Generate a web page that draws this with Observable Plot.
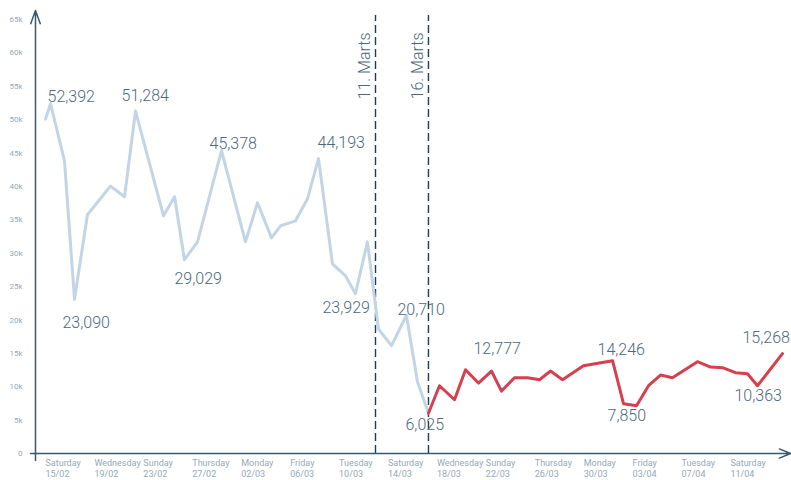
<!DOCTYPE html>
<html><head><meta charset="utf-8">
<script src="https://cdn.jsdelivr.net/npm/d3@7"></script>
<script src="https://cdn.jsdelivr.net/npm/@observablehq/plot@0.6"></script>
<style>body{margin:0;background:#fff;font-family:Roboto,"Noto Sans",sans-serif}</style>
</head><body><div id="chart"></div>
<script>
// x values: days after Saturday 15/02
const beforeDays = [0, 0.41, 1.55, 2.37, 3.43, 5.31, 6.46, 7.36, 9.65, 10.55, 11.36, 12.43, 14.39, 16.35, 17.33, 18.48, 19.21, 20.44, 21.42, 22.32, 23.46, 24.53, 25.34, 26.32, 27.22, 28.29, 29.51, 30.41, 31.31];
const beforeValues = [50100, 52392, 43850, 23090, 35750, 40050, 38450, 51284, 35600, 38450, 29029, 31700, 45378, 31700, 37550, 32300, 34100, 34850, 38150, 44193, 28400, 26600, 23929, 31700, 18650, 16150, 20710, 10750, 6025];
const afterDays = [31.31, 32.21, 33.44, 34.34, 35.40, 36.46, 37.28, 38.34, 39.41, 40.39, 41.29, 42.27, 43.98, 46.36, 47.26, 48.32, 49.30, 50.28, 51.26, 53.30, 54.37, 55.35, 56.41, 57.39, 58.21, 60.25];
const afterValues = [6025, 10150, 8050, 12550, 10550, 12350, 9350, 11350, 11350, 11050, 12350, 11050, 13150, 13900, 7450, 7150, 10150, 11750, 11350, 13750, 12950, 12850, 12100, 11950, 10150, 14950];

const tickDays = [0, 4, 8, 12, 16, 20, 24, 28, 32, 36, 40, 44, 48, 52, 56];
const tickWeekdays = ["Saturday","Wednesday","Sunday","Thursday","Monday","Friday","Tuesday","Saturday","Wednesday","Sunday","Thursday","Monday","Friday","Tuesday","Saturday"];
const tickDates = ["15/02","19/02","23/02","27/02","02/03","06/03","10/03","14/03","18/03","22/03","26/03","30/03","03/04","07/04","11/04"];
const yTicks = [0, 5000, 10000, 15000, 20000, 25000, 30000, 35000, 40000, 45000, 50000, 55000, 60000, 65000];

const eventDays = [26.98, 31.31];
const eventLabels = ["11. Marts", "16. Marts"];

const labelDays = [0.41, 7.36, 2.37, 11.36, 14.39, 22.32, 25.34, 29.51, 31.31, 36.46, 46.36, 48.32, 58.21, 60.25];
const labelValues = [52392, 51284, 23090, 29029, 45378, 44193, 23929, 20710, 6025, 12777, 14246, 7850, 10363, 15268];

// layout (pixel offsets of each value label relative to its point)
const labelOffsets = [[-3,-7],[-14,-15],[-12,24],[-10,19],[-12,-7],[-1,-16],[-33,14],[-9,-5],[-23,12],[-18,-19],[-15,-9],[-29,15],[-23,12],[-40,-14]];

const before = beforeDays.map((d, i) => ({day: d, value: beforeValues[i]}));
const after = afterDays.map((d, i) => ({day: d, value: afterValues[i]}));
const ticks = tickDays.map((d, i) => ({day: d, text: tickWeekdays[i] + "\n" + tickDates[i]}));
const events = eventDays.map((d, i) => ({day: d, text: eventLabels[i]}));
const fmt = d3.format(",");

const axisColor = "#3a586d";
const tickColor = "#94a9b8";
const labelColor = "#4b697e";
const xMin = -0.8175, xMax = 60.99;

const marks = [
  Plot.ruleX(events, {x: "day", y1: 0, y2: 65600, stroke: "#1c3d57", strokeWidth: 1.4, strokeDasharray: "8,4"}),
  Plot.text(events, {x: "day", frameAnchor: "top", text: "text", rotate: -90, textAnchor: "end", dx: -17, dy: 13, fontSize: 16, fontWeight: 300, fill: labelColor, fontFamily: "Roboto", style: "letter-spacing:0.5px"}),
  Plot.line(before, {x: "day", y: "value", stroke: "#c2d5e4", strokeWidth: 3}),
  Plot.line(after, {x: "day", y: "value", stroke: "#d6404e", strokeWidth: 3}),
  Plot.arrow([{x1: -1.226, y1: 0, x2: 60.91, y2: 0}], {x1: "x1", y1: "y1", x2: "x2", y2: "y2", stroke: axisColor, strokeWidth: 1.5, headLength: 12, headAngle: 45}),
  Plot.arrow([{x1: xMin, y1: -1050, x2: xMin, y2: 66350}], {x1: "x1", y1: "y1", x2: "x2", y2: "y2", stroke: axisColor, strokeWidth: 1.5, headLength: 14, headAngle: 40}),
  Plot.text(ticks, {x: "day", y: 0, text: "text", textAnchor: "start", lineAnchor: "top", dy: 5, lineHeight: 1.2, fontSize: 9, fill: tickColor, fontFamily: "Roboto"}),
  Plot.text(yTicks, {x: xMin, y: d => d, text: d => d === 0 ? "0" : (d / 1000) + "k", textAnchor: "end", dx: -13, fontSize: 8, fill: tickColor, fontFamily: "Roboto"})
];
labelDays.forEach((d, i) => {
  marks.push(Plot.text([{day: d, value: labelValues[i]}], {
    x: "day", y: "value", text: r => fmt(r.value), textAnchor: "start",
    dx: labelOffsets[i][0], dy: labelOffsets[i][1],
    fontSize: 16, fontWeight: 300, fill: labelColor, fontFamily: "Roboto"
  }));
});

const chart = Plot.plot({
  width: 791, height: 480,
  marginLeft: 35, marginRight: 0, marginTop: 19, marginBottom: 27,
  x: {type: "linear", domain: [xMin, xMax], axis: null},
  y: {domain: [0, 65000], axis: null},
  style: {background: "#fff", overflow: "visible"},
  marks
});
document.getElementById("chart").appendChild(chart);
</script>
</body></html>
